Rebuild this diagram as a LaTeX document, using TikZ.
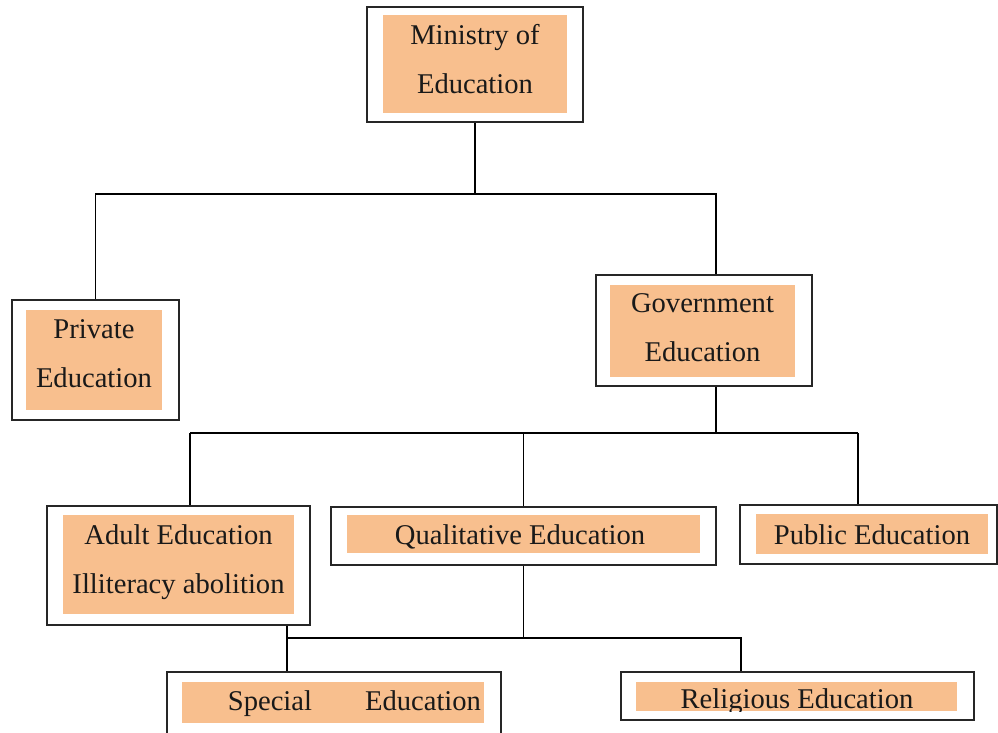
\documentclass[tikz,border=0pt]{standalone}
\usepackage{fontspec}
\setmainfont{Liberation Serif}
\definecolor{peach}{RGB}{248,191,142}

\begin{document}
\begin{tikzpicture}[x=0.5pt,y=-0.5pt,line width=0.9pt,
  frame/.style={draw=black!85,fill=white,inner sep=0pt},
  patch/.style={fill=peach,inner sep=0pt},
  caption/.style={inner sep=0pt,align=center,text=black!90,font=\fontsize{14.3}{24.5}\selectfont}]
\useasboundingbox (0,0) rectangle (998,733);
\node (min) at (475,64.5) [frame,minimum width=108pt,minimum height=57.5pt] {};
\node (minf) at (475,64) [patch,minimum width=92pt,minimum height=49pt] {};
\node (mint) at (475,59.5) [caption] {Ministry of\\Education};
\node (priv) at (95.5,360) [frame,minimum width=83.5pt,minimum height=60pt] {};
\node (privf) at (94,360) [patch,minimum width=68pt,minimum height=50pt] {};
\node (privt) at (94,353.5) [caption] {Private\\Education};
\node (gov) at (704,330.5) [frame,minimum width=108pt,minimum height=55.5pt] {};
\node (govf) at (702.5,331) [patch,minimum width=92.5pt,minimum height=46pt] {};
\node (govt) at (702.5,328) [caption] {Government\\Education};
\node (adult) at (178.5,565.5) [frame,minimum width=131.5pt,minimum height=59.5pt] {};
\node (adultf) at (178.5,564.5) [patch,minimum width=115.5pt,minimum height=49.5pt] {};
\node (adultt) at (178.5,562.5) [caption] {Adult Education\\Illiteracy abolition};
\node (qual) at (523.5,536) [frame,minimum width=192.5pt,minimum height=29pt] {};
\node (qualf) at (523.5,534) [patch,minimum width=176.5pt,minimum height=19pt] {};
\node (qualt) at (520,537) [caption] {Qualitative Education};
\node (pub) at (868.5,534.5) [frame,minimum width=128.5pt,minimum height=29.5pt] {};
\node (pubf) at (872,534) [patch,minimum width=116pt,minimum height=20pt] {};
\node (pubt) at (872,535) [caption] {Public Education};
\node (spec) at (334,708) [frame,minimum width=167pt,minimum height=36pt] {};
\node (specf) at (333,702.5) [patch,minimum width=151pt,minimum height=20.5pt] {};
\node (spect) at (333,703.5) [caption,text width=148pt,align=right] {Special\hspace{26.5pt}Education};
\node (rel) at (797.5,696) [frame,minimum width=176.5pt,minimum height=24pt] {};
\node (relf) at (796.5,696.5) [patch,minimum width=160.5pt,minimum height=14.5pt] {};
\begin{scope}
\clip (relf.south west) rectangle (relf.north east);
\node (relt) at (797,702) [caption] {Religious Education};
\end{scope}
\coordinate (b1) at (475,194);
\coordinate (g1) at (716,194);
\coordinate (b2) at (716,433);
\coordinate (a1) at (190,433);
\coordinate (p1) at (858,433);
\coordinate (b3) at (287,638);
\coordinate (r1) at (741,638);
\draw[-] (min) -- (b1);
\draw[-] (priv.north) |- (b1) -- (g1) -- (g1 |- gov.north);
\draw[-] (b2 |- gov.south) -- (b2);
\draw[-] (a1) -- (p1);
\draw[-] (a1) -- (a1 |- adult.north);
\draw[-] (qual.north) -- (qual.north |- b2);
\draw[-] (p1) -- (p1 |- pub.north);
\draw[-] (b3 |- adult.south) -- (b3) -- (r1) -- (r1 |- rel.north);
\draw[-] (b3) -- (b3 |- spec.north);
\draw[-] (qual.south) -- (qual.south |- b3);
\end{tikzpicture}
\end{document}
